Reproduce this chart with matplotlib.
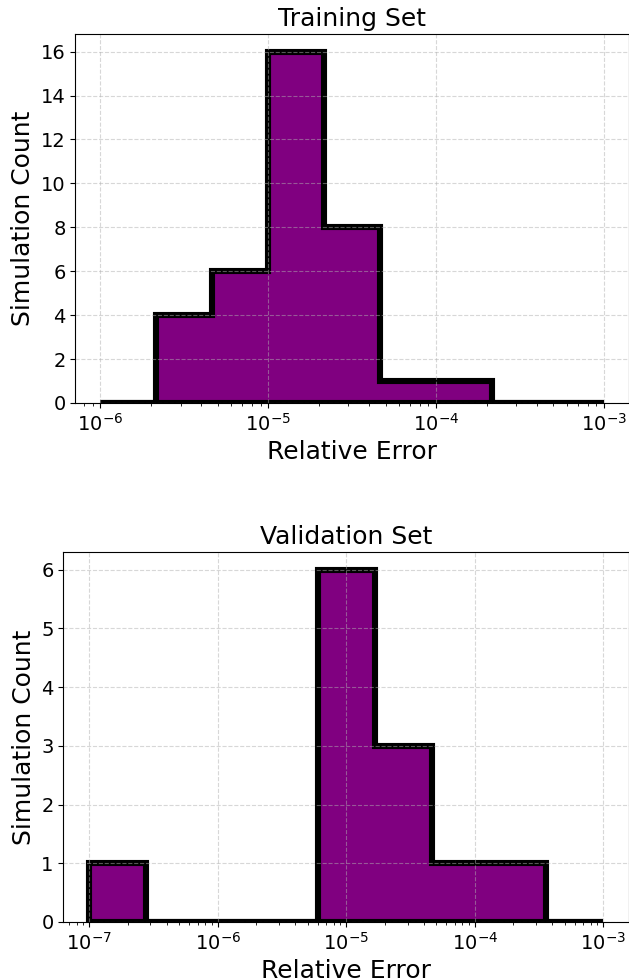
import numpy as np
import matplotlib
matplotlib.use('Agg')
import matplotlib.pyplot as plt

# log-spaced bin edges and counts
train_edges = np.logspace(-6, -3, 10)
train_counts = [0, 4, 6, 16, 8, 1, 1, 0, 0]

val_edges = np.logspace(-7, -3, 10)
val_counts = [1, 0, 0, 0, 6, 3, 1, 1, 0]

titles = ['Training Set', 'Validation Set']

fig = plt.figure(figsize=(6.29, 9.8), dpi=100)

ax1 = fig.add_axes([0.1197, 0.5888, 0.8803, 0.3765])
ax2 = fig.add_axes([0.1008, 0.0592, 0.8992, 0.3775])

for ax, edges, counts, title in zip([ax1, ax2], [train_edges, val_edges],
                                    [train_counts, val_counts], titles):
    ax.hist(edges[:-1], bins=edges, weights=counts, histtype='stepfilled',
            facecolor='purple', edgecolor='black', linewidth=4.4)
    ax.set_xscale('log')
    ax.grid(True, linestyle='--', alpha=0.5)
    ax.set_title(title, size=18)
    ax.set_xlabel('Relative Error', size=18)
    ax.set_ylabel('Simulation Count', size=18)
    ax.tick_params(labelsize=14)

ax2.set_yticks(range(0, 7))

plt.savefig('out.png', dpi=100)
